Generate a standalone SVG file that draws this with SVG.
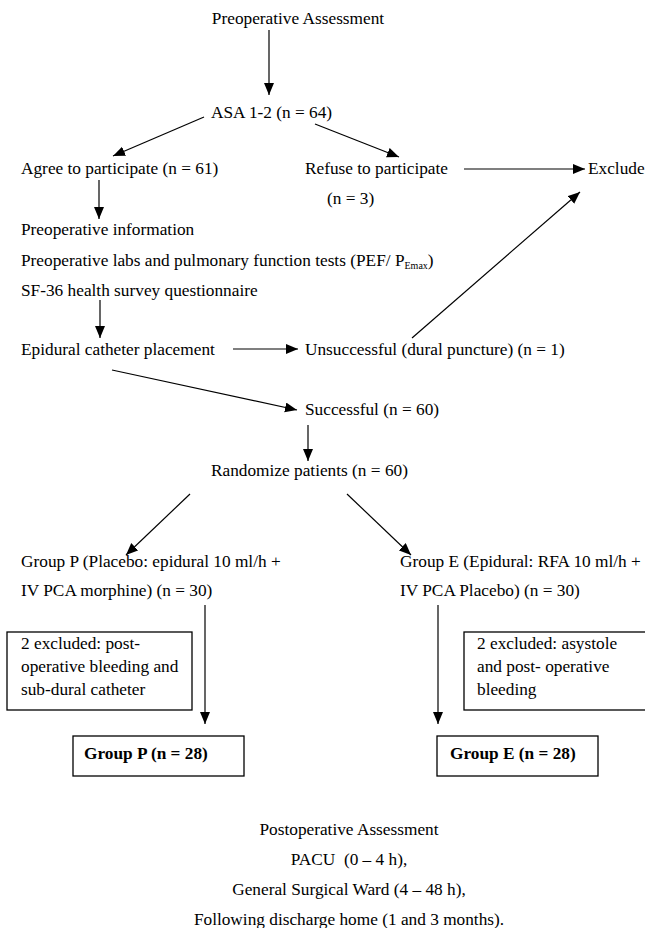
<svg xmlns="http://www.w3.org/2000/svg" width="645" height="928" viewBox="0 0 645 928">
<defs>
<marker id="ah" markerUnits="userSpaceOnUse" markerWidth="13" markerHeight="11" refX="12" refY="5" orient="auto">
<path d="M0,0 L12,5 L0,10 z" fill="#000"/>
</marker>
<style>
text{font-family:"Liberation Serif","Times New Roman",serif;font-size:17.3px;fill:#000}
.b{font-weight:bold;font-size:17.3px}
.c{text-anchor:middle}
.pre{white-space:pre}
.sub{font-size:10px}
.ar{stroke:#000;stroke-width:1.2;fill:none;marker-end:url(#ah)}
.box{stroke:#000;stroke-width:1.3;fill:#fff}
</style>
</defs>
<rect width="645" height="928" fill="#fff"/>
<g id="connectors">
<line class="ar" x1="269" y1="30" x2="269" y2="95"/>
<line class="ar" x1="204" y1="117" x2="113" y2="156"/>
<line class="ar" x1="315" y1="124" x2="399" y2="157"/>
<line class="ar" x1="464" y1="169" x2="585" y2="169"/>
<line class="ar" x1="99" y1="180" x2="99" y2="219"/>
<line class="ar" x1="100" y1="300" x2="100" y2="338"/>
<line class="ar" x1="233" y1="349" x2="298" y2="349"/>
<line class="ar" x1="412" y1="338" x2="580" y2="192"/>
<line class="ar" x1="112" y1="370" x2="297" y2="410"/>
<line class="ar" x1="308" y1="425" x2="308" y2="461"/>
<line class="ar" x1="190" y1="494" x2="126" y2="555"/>
<line class="ar" x1="347" y1="494" x2="411" y2="555"/>
<line class="ar" x1="205" y1="605" x2="205" y2="724"/>
<line class="ar" x1="438" y1="605" x2="438" y2="724"/>
</g>
<g id="n-preop"><text class="c" x="298" y="24">Preoperative Assessment</text></g>
<g id="n-asa"><text x="211" y="118">ASA 1-2 (n = 64)</text></g>
<g id="n-agree"><text x="21" y="174">Agree to participate (n = 61)</text></g>
<g id="n-refuse"><text x="305" y="174">Refuse to participate</text><text x="327" y="204">(n = 3)</text></g>
<g id="n-exclude"><text x="588" y="174">Exclude</text></g>
<g id="n-info">
<text x="21" y="235">Preoperative information</text>
<text x="21" y="266">Preoperative labs and pulmonary function tests (PEF/ P<tspan class="sub" dy="3">Emax</tspan><tspan dy="-3">)</tspan></text>
<text x="21" y="296">SF-36 health survey questionnaire</text>
</g>
<g id="n-epidural"><text x="21" y="355">Epidural catheter placement</text></g>
<g id="n-unsuccessful"><text x="305" y="355">Unsuccessful (dural puncture) (n = 1)</text></g>
<g id="n-successful"><text x="305" y="415">Successful (n = 60)</text></g>
<g id="n-randomize"><text x="211" y="476">Randomize patients (n = 60)</text></g>
<g id="n-groupP"><text x="21" y="567">Group P (Placebo: epidural 10 ml/h +</text><text x="21" y="596">IV PCA morphine) (n = 30)</text></g>
<g id="n-groupE"><text x="400" y="567">Group E (Epidural: RFA 10 ml/h +</text><text x="400" y="596">IV PCA Placebo) (n = 30)</text></g>
<g id="n-exclP"><rect class="box" x="7" y="632" width="185" height="78"/>
<text x="21" y="649">2 excluded: post-</text><text x="21" y="672">operative bleeding and</text><text x="21" y="695">sub-dural catheter</text></g>
<g id="n-exclE"><rect class="box" x="464" y="632" width="190" height="78"/>
<text x="477" y="649">2 excluded: asystole</text><text x="477" y="672">and post- operative</text><text x="477" y="695">bleeding</text></g>
<g id="n-finalP"><rect class="box" x="73" y="736" width="171" height="40"/><text class="b" x="84" y="759">Group P (n = 28)</text></g>
<g id="n-finalE"><rect class="box" x="437" y="736" width="161" height="40"/><text class="b" x="450" y="759">Group E (n = 28)</text></g>
<g id="n-postop">
<text class="c" x="349" y="835">Postoperative Assessment</text>
<text class="c pre" x="349" y="865">PACU  (0 – 4 h),</text>
<text class="c" x="349" y="895">General Surgical Ward (4 – 48 h),</text>
<text class="c" x="349" y="925">Following discharge home (1 and 3 months).</text>
</g>
</svg>
